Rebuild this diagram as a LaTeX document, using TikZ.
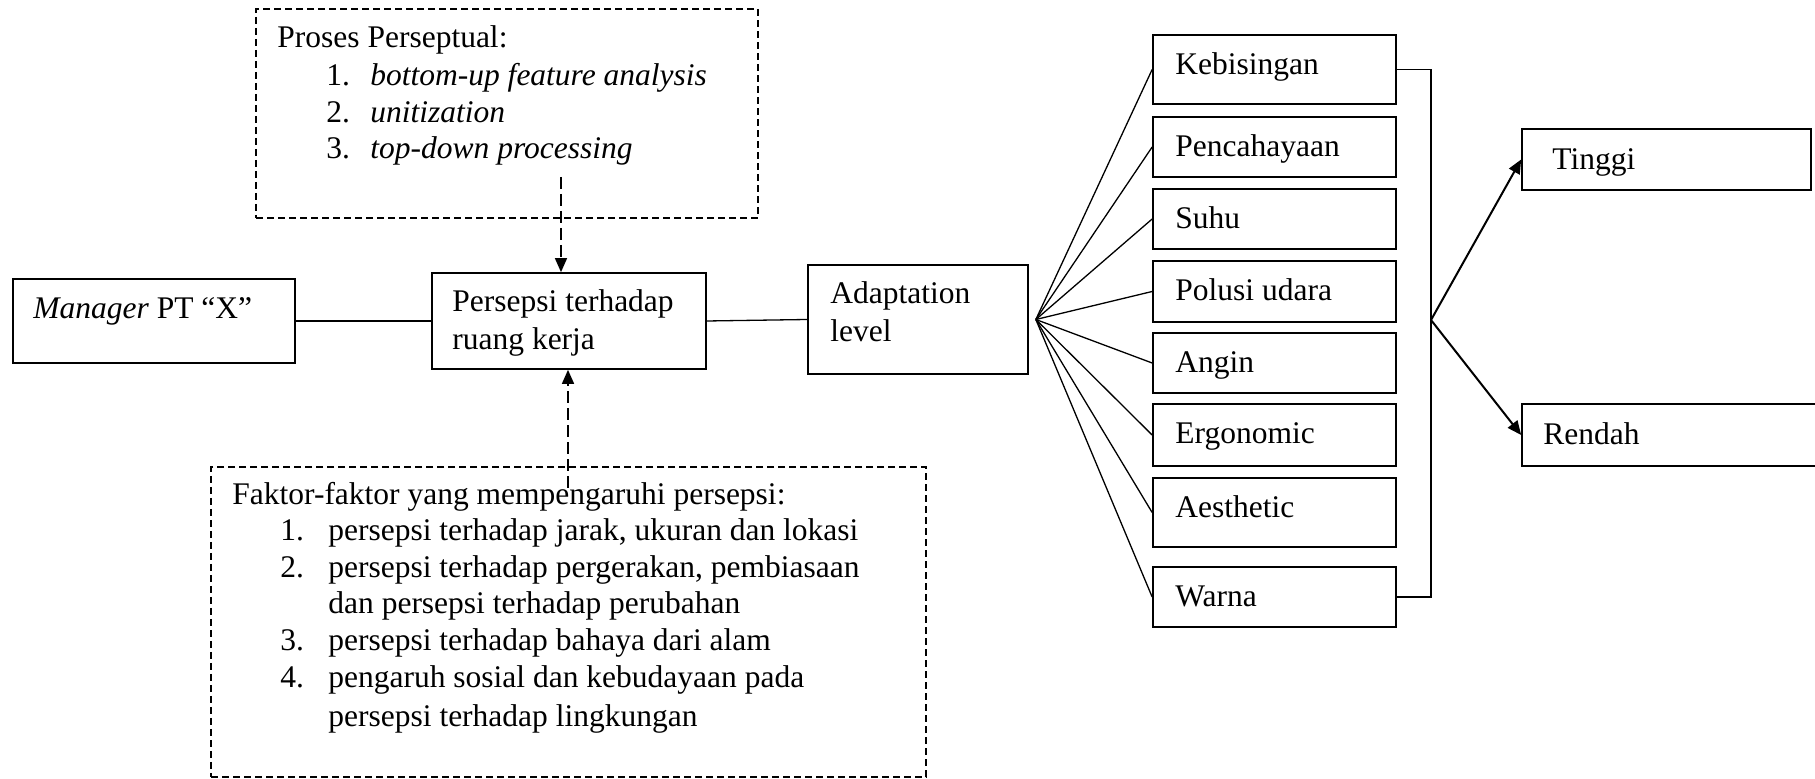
\documentclass[tikz,border=0pt]{standalone}
\usepackage{fontspec}
\setmainfont{Liberation Serif}
\usetikzlibrary{arrows.meta}
\newcommand{\bx}[6][]{\node[box,#1,minimum width={(#5-#3)*0.5pt},minimum height={(#6-#4)*0.5pt}] (#2) at ({(#3+#5)/2},{(#4+#6)/2}) {};}
\tikzset{
  box/.style={draw, rectangle, inner sep=0pt, line width=0.85pt},
  dbox/.style={line width=0.7pt, dash pattern=on 3.5pt off 2pt},
  txt/.style={anchor=base west, inner sep=0pt, font=\fontsize{15.75}{18.5}\selectfont},
  conn/.style={line width=0.65pt},
  darr/.style={line width=0.75pt, dash pattern=on 6pt off 2.5pt, -{Triangle[length=7pt,width=6pt]}},
  arr/.style={line width=1pt, -{Triangle[length=7pt,width=6pt]}},
}
\begin{document}
\begin{tikzpicture}[x=0.5pt,y=-0.5pt]
\useasboundingbox (0,0) rectangle (1815,779);
\clip (0,0) rectangle (1815,779);
% boxes
\bx[dbox]{pp}{256}{9}{758}{218}
\bx[dbox]{ff}{211}{467}{926}{777}
\bx{mgr}{13}{279}{295}{363}
\bx{per}{432}{273}{706}{369}
\bx{ada}{808}{265}{1028}{374}
\bx{k1}{1153}{35}{1396}{104}
\bx{k2}{1153}{117}{1396}{177}
\bx{k3}{1153}{189}{1396}{249}
\bx{k4}{1153}{261}{1396}{322}
\bx{k5}{1153}{333}{1396}{393}
\bx{k6}{1153}{404}{1396}{466}
\bx{k7}{1153}{478}{1396}{547}
\bx{k8}{1153}{567}{1396}{627}
\bx{hi}{1522}{129}{1811}{190}
\bx{lo}{1522}{404}{1835}{466}
% texts
\node[txt] (pp0) at (277,48) {Proses Perseptual:};
\node[txt] (pp1) at (326,86) {\makebox[22pt][l]{1.}\textit{bottom-up feature analysis}};
\node[txt] (pp2) at (326,123) {\makebox[22pt][l]{2.}\textit{unitization}};
\node[txt] (pp3) at (326,159) {\makebox[22pt][l]{3.}\textit{top-down processing}};
\node[txt] (ff0) at (232,505) {Faktor-faktor yang mempengaruhi persepsi:};
\node[txt] (ff1) at (280,541) {\makebox[24pt][l]{1.}persepsi terhadap jarak, ukuran dan lokasi};
\node[txt] (ff2) at (280,578) {\makebox[24pt][l]{2.}persepsi terhadap pergerakan, pembiasaan};
\node[txt] (ff2b) at (328,614) {dan persepsi terhadap perubahan};
\node[txt] (ff3) at (280,651) {\makebox[24pt][l]{3.}persepsi terhadap bahaya dari alam};
\node[txt] (ff4) at (280,688) {\makebox[24pt][l]{4.}pengaruh sosial dan kebudayaan pada};
\node[txt] (ff4b) at (328,726) {persepsi terhadap lingkungan};
\node[txt] (tmgr) at (33,319) {\textit{Manager} PT ``X''};
\node[txt] (tper1) at (452,312) {Persepsi terhadap};
\node[txt] (tper2) at (452,350) {ruang kerja};
\node[txt] (tada1) at (830,304) {Adaptation};
\node[txt] (tada2) at (830,342) {level};
\node[txt] (tk1) at (1175,75) {Kebisingan};
\node[txt] (tk2) at (1175,157) {Pencahayaan};
\node[txt] (tk3) at (1175,229) {Suhu};
\node[txt] (tk4) at (1175,301) {Polusi udara};
\node[txt] (tk5) at (1175,373) {Angin};
\node[txt] (tk6) at (1175,444) {Ergonomic};
\node[txt] (tk7) at (1175,518) {Aesthetic};
\node[txt] (tk8) at (1175,607) {Warna};
\node[txt] (thi) at (1552,170) {Tinggi};
\node[txt] (tlo) at (1543,445) {Rendah};
% connectors
\draw[conn] (mgr.east) -- (per.west);
\draw[conn] (per.east) -- (ada.west);
\coordinate (fan) at ([xshift=3.5pt]ada.east);
\foreach \k in {k1,k2,k3,k4,k5,k6,k7,k8}{\draw[conn] (fan) -- (\k.west);}
\coordinate (br) at (1431,320);
\draw[conn] (k1.east) -| (br) |- (k8.east);
\draw[arr] (br) -- (hi.west);
\draw[arr] (br) -- (lo.west);
\coordinate (pa) at (561,177);
\draw[darr] (pa) -- (pa |- per.north);
\coordinate (fa) at (568,488);
\draw[darr] (fa) -- (fa |- per.south);
\end{tikzpicture}
\end{document}
